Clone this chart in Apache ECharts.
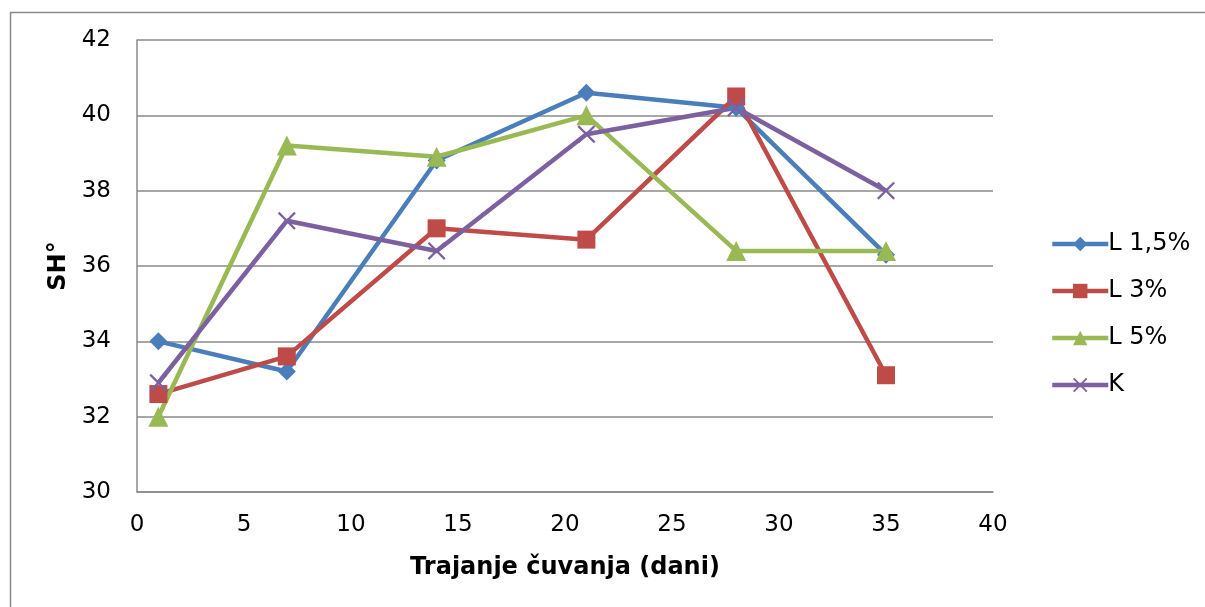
<!DOCTYPE html>
<html>
<head>
<meta charset="utf-8">
<script src="https://cdn.jsdelivr.net/npm/echarts@6/dist/echarts.min.js"></script>
<style>html,body{margin:0;padding:0;background:#fff;}#c{width:1205px;height:607px;}</style>
</head>
<body>
<div id="c"></div>
<script>
const days = [1, 7, 14, 21, 28, 35];
const seriesNames = ['L 1,5%', 'L 3%', 'L 5%', 'K'];
const l15 = [34.0, 33.2, 38.8, 40.6, 40.2, 36.3];
const l3 = [32.6, 33.6, 37.0, 36.7, 40.5, 33.1];
const l5 = [32.0, 39.2, 38.9, 40.0, 36.4, 36.4];
const k = [32.9, 37.2, 36.4, 39.5, 40.2, 38.0];
const xTitle = 'Trajanje čuvanja (dani)';
const yTitle = 'SH°';

const colors = ['#4a7ebb', '#be4b48', '#98b954', '#7d60a0'];
const crossPath = 'path://M0,0.9L0.9,0L5,4.1L9.1,0L10,0.9L5.9,5L10,9.1L9.1,10L5,5.9L0.9,10L0,9.1L4.1,5Z';
const symbols = ['diamond', 'rect', 'triangle', crossPath];
const symSizes = [18, 18, 20, 18];
const values = [l15, l3, l5, k];
const font = 'DejaVu Sans';

const chart = echarts.init(document.getElementById('c'), null, {renderer: 'canvas'});
chart.setOption({
  animation: false,
  backgroundColor: '#fff',
  textStyle: {fontFamily: font},
  graphic: [{
    type: 'rect', left: 8, top: 10, z: -1,
    shape: {width: 1300, height: 700},
    style: {fill: 'none', stroke: '#8a8a8a', lineWidth: 1.5}
  }],
  grid: {left: 137, right: 212, top: 40, bottom: 115, containLabel: false},
  legend: {
    orient: 'vertical', left: 1045, top: 227,
    itemWidth: 56, itemHeight: 18, itemGap: 23,
    lineStyle: {width: 4.5},
    textStyle: {fontFamily: font, fontSize: 24, color: '#000', padding: [0, 0, 0, -5]},
    data: seriesNames
  },
  xAxis: {
    type: 'value', min: 0, max: 40, interval: 5,
    name: xTitle, nameLocation: 'middle', nameGap: 64,
    nameTextStyle: {fontFamily: font, fontSize: 24, fontWeight: 'bold', color: '#000'},
    axisLine: {show: true, lineStyle: {color: '#8a8a8a', width: 1.5}},
    axisTick: {show: false},
    axisLabel: {fontFamily: font, fontSize: 23, color: '#000', margin: 22},
    splitLine: {show: false}
  },
  yAxis: {
    type: 'value', min: 30, max: 42, interval: 2,
    name: yTitle, nameLocation: 'middle', nameGap: 63, nameRotate: 90,
    nameTextStyle: {fontFamily: font, fontSize: 24, fontWeight: 'bold', color: '#000'},
    axisLine: {show: true, lineStyle: {color: '#8a8a8a', width: 1.5}},
    axisTick: {show: false},
    axisLabel: {fontFamily: font, fontSize: 23, color: '#000', margin: 26},
    splitLine: {show: true, lineStyle: {color: '#8a8a8a', width: 1.5}}
  },
  series: seriesNames.map((n, i) => ({
    name: n, type: 'line',
    data: days.map((d, j) => [d, values[i][j]]),
    symbol: symbols[i], symbolSize: symSizes[i],
    lineStyle: {color: colors[i], width: 4.5},
    itemStyle: {color: colors[i]},
    emphasis: {disabled: true}
  }))
});
</script>
</body>
</html>
